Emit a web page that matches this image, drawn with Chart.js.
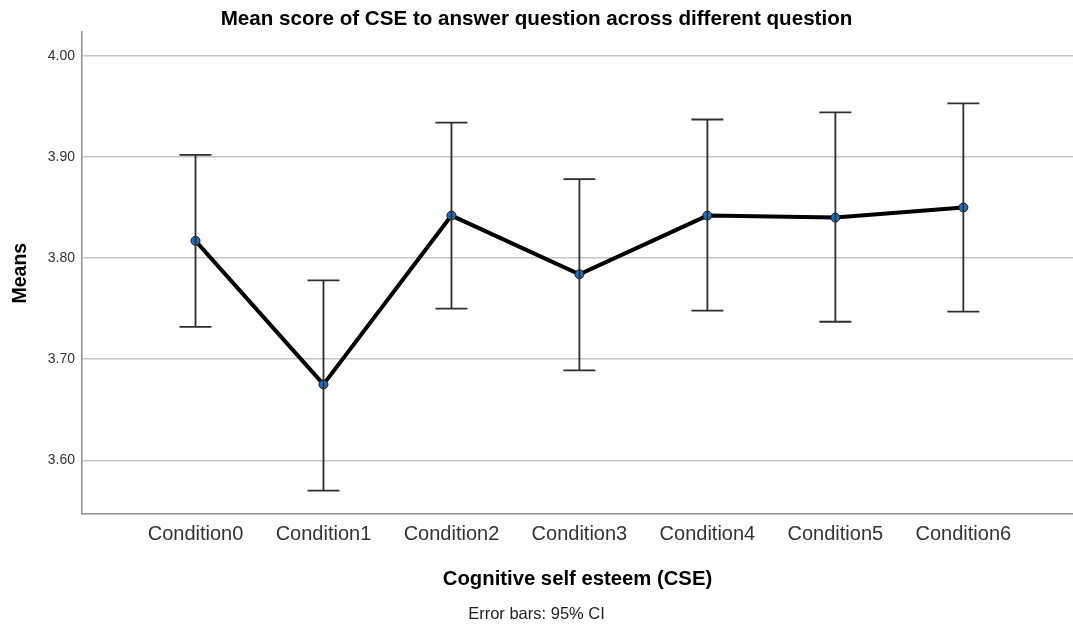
<!DOCTYPE html>
<html>
<head>
<meta charset="utf-8">
<script src="https://cdn.jsdelivr.net/npm/chart.js@4/dist/chart.umd.min.js"></script>
<style>
  html, body { margin: 0; padding: 0; background: #ffffff; overflow: hidden; }
  canvas { display: block; }
</style>
</head>
<body>
<canvas id="chart" width="1073" height="626"></canvas>
<script>
// Mean CSE score per condition with 95% confidence intervals
const categories = ['Condition0', 'Condition1', 'Condition2', 'Condition3', 'Condition4', 'Condition5', 'Condition6'];
const means   = [3.817, 3.675, 3.842, 3.784, 3.842, 3.840, 3.850];
const ciLower = [3.732, 3.570, 3.750, 3.689, 3.748, 3.737, 3.747];
const ciUpper = [3.902, 3.778, 3.934, 3.878, 3.937, 3.944, 3.953];
const yTicks  = [3.60, 3.70, 3.80, 3.90, 4.00];

const FONT = "'Liberation Sans', Arial, sans-serif";

// Whiskers with caps, drawn on top of the mean line
const errorBars = {
  id: 'errorBars',
  afterDatasetsDraw(chart) {
    const { ctx, scales: { x, y } } = chart;
    const half = 16;
    ctx.save();
    ctx.strokeStyle = '#2e2e2e';
    ctx.lineWidth = 1.8;
    categories.forEach((_, i) => {
      const px = x.getPixelForValue(i);
      const top = y.getPixelForValue(ciUpper[i]);
      const bot = y.getPixelForValue(ciLower[i]);
      ctx.beginPath();
      ctx.moveTo(px, top); ctx.lineTo(px, bot);
      ctx.moveTo(px - half, top); ctx.lineTo(px + half, top);
      ctx.moveTo(px - half, bot); ctx.lineTo(px + half, bot);
      ctx.stroke();
    });
    ctx.restore();
  }
};

new Chart(document.getElementById('chart'), {
  type: 'line',
  data: {
    datasets: [{
      data: means.map((m, i) => ({ x: i, y: m })),
      borderColor: '#000000',
      borderWidth: 4,
      pointRadius: 4.5,
      pointBackgroundColor: '#1b6fc0',
      pointBorderColor: '#1a1a1a',
      pointBorderWidth: 1,
      tension: 0,
      fill: false
    }]
  },
  options: {
    responsive: false,
    animation: false,
    devicePixelRatio: 1,
    layout: { autoPadding: false, padding: 0 },
    plugins: {
      legend: { display: false },
      tooltip: { enabled: false },
      title: {
        display: true,
        text: 'Mean score of CSE to answer question across different question',
        color: '#000000',
        font: { family: FONT, size: 20.6, weight: 'bold' },
        padding: { top: 7, bottom: 0.5 }
      },
      subtitle: {
        display: true,
        position: 'bottom',
        text: 'Error bars: 95% CI',
        color: '#222222',
        font: { family: FONT, size: 16.5, weight: 'normal' },
        padding: { top: 0, bottom: 2 }
      }
    },
    scales: {
      x: {
        type: 'linear',
        min: -0.887,
        max: 6.857,
        afterBuildTicks(scale) { scale.ticks = categories.map((_, i) => ({ value: i })); },
        afterFit(scale) { scale.height = 90; },
        ticks: {
          autoSkip: false,
          maxRotation: 0,
          padding: 8,
          color: '#333333',
          font: { family: FONT, size: 20 },
          callback: (v) => categories[v]
        },
        grid: { display: false, drawTicks: false },
        border: { display: true, color: '#8e8e8e', width: 1.5 },
        title: {
          display: true,
          text: 'Cognitive self esteem (CSE)',
          color: '#000000',
          font: { family: FONT, size: 20.3, weight: 'bold' },
          padding: { top: 0, bottom: 13 }
        }
      },
      y: {
        type: 'linear',
        min: 3.5467,
        max: 4.0233,
        afterBuildTicks(scale) { scale.ticks = yTicks.map(v => ({ value: v })); },
        afterFit(scale) { scale.width = 82; },
        ticks: {
          padding: 7,
          color: '#333333',
          font: { family: FONT, size: 14 },
          callback: (v) => v.toFixed(2)
        },
        grid: { color: '#c6c6c6', lineWidth: 1.5, drawTicks: false },
        border: { display: true, color: '#8e8e8e', width: 1.5 },
        title: {
          display: true,
          text: 'Means',
          color: '#000000',
          font: { family: FONT, size: 19.5, weight: 'bold' },
          padding: { top: 9, bottom: 0 }
        }
      }
    }
  },
  plugins: [errorBars]
});
</script>
</body>
</html>
